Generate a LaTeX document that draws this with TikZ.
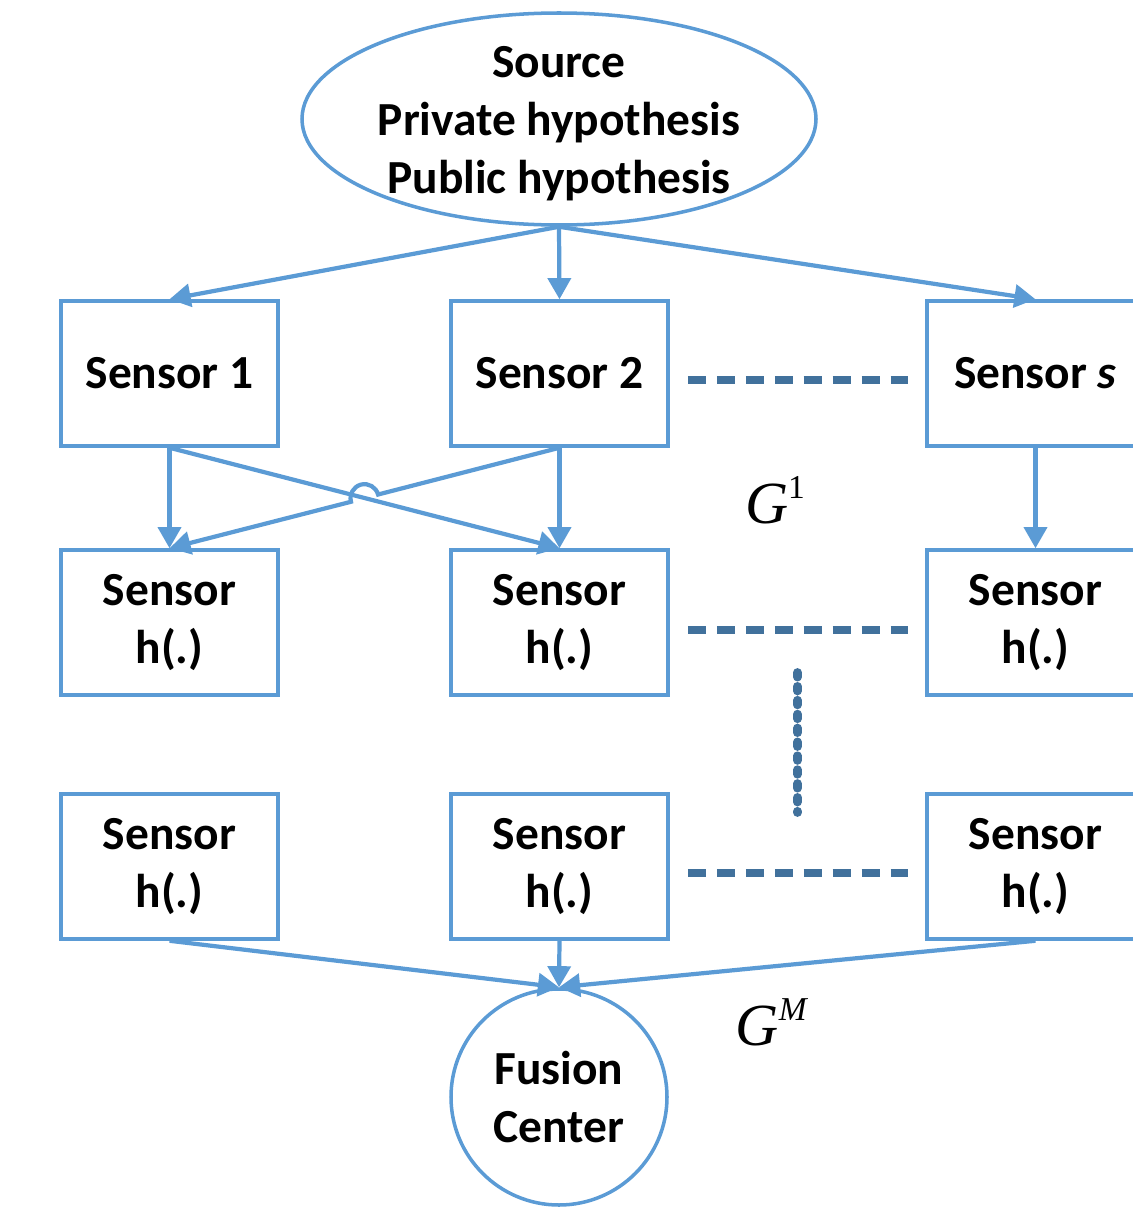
\documentclass[tikz,border=0pt]{standalone}
\usepackage{fontspec}
\setmainfont{Carlito}
\newfontfamily\timesfont{Liberation Serif}
\usetikzlibrary{shapes.geometric,arrows.meta,calc}
\definecolor{linkblue}{HTML}{5B9BD5}
\definecolor{dotblue}{HTML}{41719C}
\newcommand{\gsup}[1]{\raisebox{0.42em}{\fontsize{19}{19}\selectfont #1}}

\begin{document}
\begin{tikzpicture}[
    every node/.style={font=\fontsize{27}{33}\selectfont\bfseries, align=center},
    box/.style={draw=linkblue, line width=2pt, minimum width=4.34cm, minimum height=2.9cm},
    link/.style={draw=linkblue, line width=2.4pt, -{Triangle[length=12pt,width=13pt]}},
    dashline/.style={draw=dotblue, line width=4pt, dash pattern=on 10.4pt off 6.1pt},
    dotline/.style={draw=dotblue, line width=5pt, line cap=round, dash pattern=on 2.6pt off 5.3pt},
    glabel/.style={font=\fontsize{34}{34}\selectfont\timesfont}]
  \useasboundingbox (0,0) rectangle (22.66,-24.3);
  % source
  \node[ellipse, draw=linkblue, line width=2pt, minimum width=10.28cm, minimum height=4.24cm] (src) at (11.18,-2.38) {};
  \node (srctext) at ($(src)+(0,-0.1)$) {Source\\Private hypothesis\\Public hypothesis};
  % sensors
  \node[box] (s1) at (3.39,-7.47) {Sensor 1};
  \node[box] (s2) at (11.19,-7.47) {Sensor 2};
  \node[box] (ss) at (20.71,-7.47) {Sensor \textit{s}};
  \node[box] (h1) at (3.39,-12.45) {Sensor\\h(.)};
  \node[box] (h2) at (11.19,-12.45) {Sensor\\h(.)};
  \node[box] (hs) at (20.71,-12.45) {Sensor\\h(.)};
  \node[box] (m1) at (3.39,-17.33) {Sensor\\h(.)};
  \node[box] (m2) at (11.19,-17.33) {Sensor\\h(.)};
  \node[box] (ms) at (20.71,-17.33) {Sensor\\h(.)};
  % fusion center
  \node[circle, draw=linkblue, line width=2pt, minimum size=4.32cm, inner sep=2pt] (fc) at (11.18,-21.94) {Fusion\\Center};
  \node[glabel] (g1) at (15.5,-10.0) {\textit{G}\gsup{1}};
  \node[glabel] (gm) at (15.44,-20.44) {\textit{G}\gsup{\textit{M}}};

  \draw[link] (src.south) -- (s1.north);
  \draw[link] (src.south) -- (s2.north);
  \draw[link] (src.south) -- (ss.north);
  \draw[link] (s1.south) -- (h1.north);
  \draw[link] (s1.south) -- (h2.north);
  \draw[link] (s2.south) -- (h2.north);
  \coordinate (cross) at ($(s1.south)!0.5!(h2.north)$);
  \draw[link] (s2.south) -- ($(cross)!0.28cm!(s2.south)$) arc[start angle=15, end angle=195, radius=0.28cm] -- (h1.north);
  \draw[link] (ss.south) -- (hs.north);
  \draw[link] (m1.south) -- (fc.north);
  \draw[link] (m2.south) -- (fc.north);
  \draw[link] (ms.south) -- (fc.north);

  \draw[dashline] ($(s2.east)+(0.36,-0.13)$) -- ($(ss.west)+(-0.34,-0.13)$);
  \draw[dashline] ($(h2.east)+(0.36,-0.15)$) -- ($(hs.west)+(-0.34,-0.15)$);
  \draw[dashline] ($(m2.east)+(0.36,-0.13)$) -- ($(ms.west)+(-0.34,-0.13)$);
  \coordinate (mid) at ($(h2.east)!0.5!(hs.west)$);
  \draw[dotline] ($(mid)+(0,-1.0)$) -- ($(mid)+(0,-3.8)$);
\end{tikzpicture}
\end{document}
